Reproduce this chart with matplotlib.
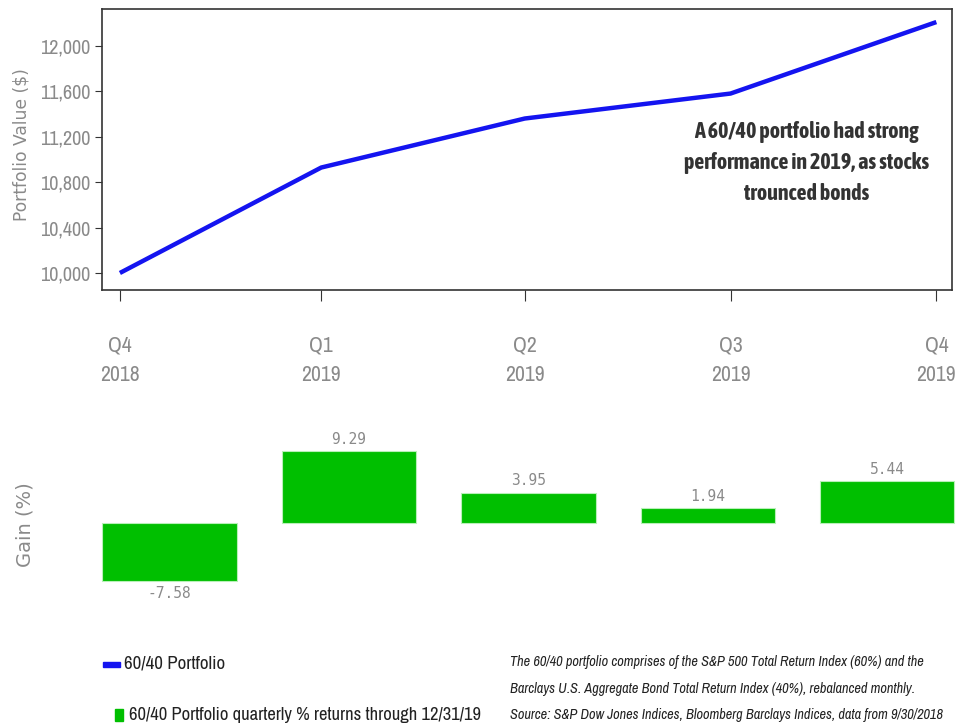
import datetime as dt
import matplotlib.pyplot as plt
from matplotlib import font_manager as fm
from matplotlib.patches import Rectangle
from matplotlib.ticker import FuncFormatter

# pick a narrow font if one is installed, otherwise shrink DejaVu Sans a bit
fonts = fm.fontManager.ttflist
narrow = sorted({f.name for f in fonts if 'Narrow' in f.name or 'Condensed' in f.name})
if 'Liberation Sans Narrow' in narrow:
    narrow.insert(0, 'Liberation Sans Narrow')
main_font = narrow[0] if narrow else 'DejaVu Sans'
k = 1.3 if narrow else 1.0
bold_files = [f.fname for f in fonts if f.name == main_font and 'bold' in f.fname.lower()]
if not bold_files:
    bold_files = [f.fname for f in fonts if ('Narrow' in f.name or 'Condensed' in f.name)
                  and 'bold' in f.fname.lower() and 'italic' not in f.fname.lower()]
bold_font = fm.FontProperties(fname=bold_files[0]) if bold_files else fm.FontProperties(
    family='DejaVu Sans', weight='bold')
plt.rcParams['font.family'] = [main_font, 'DejaVu Sans']

# data
quarter_dates = [dt.date(2018, 12, 31), dt.date(2019, 3, 31), dt.date(2019, 6, 30),
                 dt.date(2019, 9, 30), dt.date(2019, 12, 31)]
quarter_labels = ['Q4\n2018', 'Q1\n2019', 'Q2\n2019', 'Q3\n2019', 'Q4\n2019']
portfolio_value = [10000, 10929, 11361, 11581, 12211]
quarterly_returns = [-7.58, 9.29, 3.95, 1.94, 5.44]
y_ticks = [10000, 10400, 10800, 11200, 11600, 12000]

gray = '#8a8a8a'
blue = '#1414f0'
green = '#00bf00'

fig = plt.figure(figsize=(9.65, 7.25), dpi=100)

# top: portfolio value line
ax = fig.add_axes([102/965, 1 - 290/725, 850/965, 281/725])
ax.plot(quarter_dates, portfolio_value, color=blue, linewidth=3.2, solid_capstyle='butt')
ax.set_xlim(dt.date(2018, 12, 23), dt.date(2020, 1, 7))
ax.set_ylim(9850, 12326)
ax.set_xticks(quarter_dates)
ax.set_xticklabels(quarter_labels, color=gray, fontsize=12 * k, linespacing=1.55)
ax.set_yticks(y_ticks)
ax.yaxis.set_major_formatter(FuncFormatter(lambda v, p: f'{v:,.0f}'))
ax.tick_params(axis='y', labelsize=11.2 * k, labelcolor=gray, length=5, color='#333333')
ax.tick_params(axis='x', length=8, pad=25, color='#333333')
for s in ax.spines.values():
    s.set_color('#333333')
    s.set_linewidth(1.2)
fig.text(22/965, 1 - 145/725, 'Portfolio Value ($)', rotation=90, ha='center', va='center',
         color=gray, fontsize=12.3, family='DejaVu Sans')
t = ax.text(0.829, 0.452, 'A 60/40 portfolio had strong\nperformance in 2019, as stocks\ntrounced bonds',
            transform=ax.transAxes, ha='center', va='center', color='#333333', linespacing=1.55,
            fontproperties=bold_font)
t.set_fontsize(12.2 * k)

# bottom: quarterly returns bars
bx = fig.add_axes([80/965, 1 - 610/725, 885/965, 190/725])
pos = range(len(quarterly_returns))
bars = bx.bar(pos, quarterly_returns, width=0.747, color=green, edgecolor='#b8f0b8', linewidth=0.8)
bx.set_xlim(-0.4986, 4.432)
bx.set_ylim(-11.3, 13.38)
for b, v in zip(bars, quarterly_returns):
    x = b.get_x() + b.get_width() / 2
    off, va = (3, 'bottom') if v >= 0 else (-3, 'top')
    bx.annotate(f'{v:.2f}', (x, v), xytext=(0, off), textcoords='offset points',
                ha='center', va=va, color=gray, fontsize=10.5, family='DejaVu Sans Mono')
bx.set_xticks([])
bx.set_yticks([])
for s in bx.spines.values():
    s.set_visible(False)
fig.text(25/965, 1 - 525/725, 'Gain (%)', rotation=90, ha='center', va='center',
         color=gray, fontsize=14, family='DejaVu Sans')

# legend
fig.add_artist(Rectangle((103/965, 1 - 667/725), 17/965, 5/725, transform=fig.transFigure,
                         color=blue))
fig.text(124/965, 1 - 664/725, '60/40 Portfolio', fontsize=10.5 * k, color='#222222', va='center')
fig.add_artist(Rectangle((115/965, 1 - 721/725), 8/965, 12/725, transform=fig.transFigure,
                         color=green))
fig.text(129/965, 1 - 715/725, '60/40 Portfolio quarterly % returns through 12/31/19',
         fontsize=10.3 * k, color='#222222', va='center')

# footnote
fig.text(510/965, 1 - 655/725,
         'The 60/40 portfolio comprises of the S&P 500 Total Return Index (60%) and the\n'
         'Barclays U.S. Aggregate Bond Total Return Index (40%), rebalanced monthly.\n'
         'Source: S&P Dow Jones Indices, Bloomberg Barclays Indices, data from 9/30/2018',
         fontsize=7.95 * k, style='italic', color='#222222', va='top', linespacing=2.15)

fig.savefig('out.png', dpi=100)
